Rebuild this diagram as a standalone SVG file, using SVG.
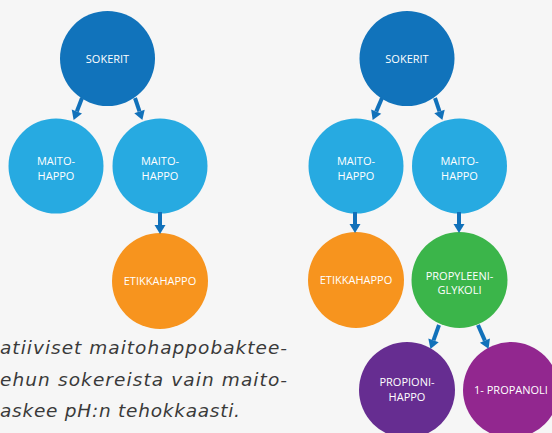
<svg xmlns="http://www.w3.org/2000/svg" width="552" height="433" viewBox="0 0 552 433">
<style>
.n text{font-family:"Open Sans","Noto Sans",sans-serif;font-size:11px;fill:#ffffff;text-anchor:middle}
.c path{fill:none;stroke:#1171ba;stroke-width:4;marker-end:url(#ah)}
.body{font-family:"DejaVu Sans","Open Sans",sans-serif;font-style:italic;font-size:18.5px;fill:#3a3a3a}
.sok{fill:#1173bb}.mai{fill:#27aae1}.eti{fill:#f7941e}.pro{fill:#3bb54a}.pra{fill:#662d91}.pol{fill:#92278f}
</style>
<defs>
<marker id="ah" markerUnits="userSpaceOnUse" markerWidth="10" markerHeight="12" viewBox="0 -6 9 12" refX="0" refY="0" orient="auto">
<path d="M0,-5.5 L9,0 L0,5.5 Z" fill="#1171ba"/>
</marker>
</defs>
<rect width="552" height="433" fill="#f6f6f6"/>
<g id="left-sokerit" class="n"><circle class="sok" cx="107.5" cy="58.5" r="47.5"/><text x="107.5" y="62.5">SOKERIT</text></g>
<g id="left-maito1" class="n"><circle class="mai" cx="56" cy="166" r="47.5"/><text x="56" y="164.5">MAITO-</text><text x="56" y="179.5">HAPPO</text></g>
<g id="left-maito2" class="n"><circle class="mai" cx="160" cy="166" r="47.5"/><text x="160" y="164.5">MAITO-</text><text x="160" y="179.5">HAPPO</text></g>
<g id="left-etikka" class="n"><circle class="eti" cx="160" cy="281" r="48"/><text x="160" y="284.5">ETIKKAHAPPO</text></g>
<g id="right-sokerit" class="n"><circle class="sok" cx="407" cy="58.5" r="47.5"/><text x="407" y="62.5">SOKERIT</text></g>
<g id="right-maito1" class="n"><circle class="mai" cx="356" cy="166" r="47.5"/><text x="356" y="164.5">MAITO-</text><text x="356" y="179.5">HAPPO</text></g>
<g id="right-maito2" class="n"><circle class="mai" cx="459.5" cy="166" r="47.5"/><text x="459.5" y="164.5">MAITO-</text><text x="459.5" y="179.5">HAPPO</text></g>
<g id="right-etikka" class="n"><circle class="eti" cx="356" cy="280" r="48"/><text x="356" y="284">ETIKKAHAPPO</text></g>
<g id="right-propyleeni" class="n"><circle class="pro" cx="459.5" cy="280" r="48"/><text x="459.5" y="280">PROPYLEENI-</text><text x="459.5" y="294">GLYKOLI</text></g>
<g id="right-propioni" class="n"><circle class="pra" cx="407" cy="390" r="48"/><text x="407" y="386">PROPIONI-</text><text x="407" y="400.5">HAPPO</text></g>
<g id="right-propanoli" class="n"><circle class="pol" cx="511" cy="390" r="48"/><text x="511" y="393.5">1- PROPANOLI</text></g>
<g id="connectors" class="c">
<path d="M82,98 L76.85,111.5"/>
<path d="M135,98 L139.5,111.4"/>
<path d="M160,212 L160,225"/>
<path d="M382,98 L376.2,111.6"/>
<path d="M435,98 L439.5,111.4"/>
<path d="M355,212 L355,224"/>
<path d="M459,212 L459,224"/>
<path d="M439,325 L433.5,340.4"/>
<path d="M478,325 L484.9,340.6"/>
</g>
<g id="caption" class="body">
<text x="0" y="354" textLength="287" lengthAdjust="spacing">atiiviset maitohappobaktee-</text>
<text x="0" y="385.5" textLength="287" lengthAdjust="spacing">ehun sokereista vain maito-</text>
<text x="0" y="417" textLength="240" lengthAdjust="spacing">askee pH:n tehokkaasti.</text>
</g>
</svg>
